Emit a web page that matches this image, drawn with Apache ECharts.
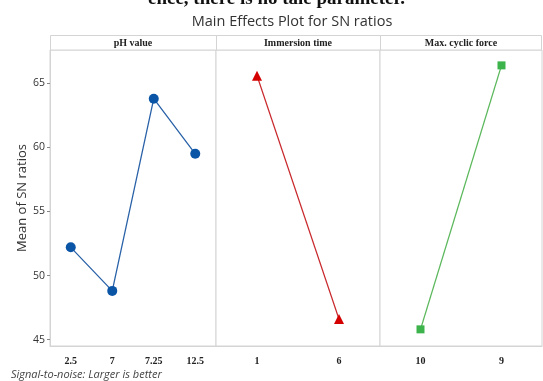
<!DOCTYPE html>
<html>
<head>
<meta charset="utf-8">
<style>
  html, body { margin: 0; padding: 0; background: #fff; }
  #main { width: 543px; height: 381px; }
</style>
<script src="https://cdn.jsdelivr.net/npm/echarts@6/dist/echarts.min.js"></script>
</head>
<body>
<div id="main"></div>
<script>
// factor levels and mean SN ratios
var phLevels = ["2.5", "7", "7.25", "12.5"];
var phValues = [52.2, 48.8, 63.8, 59.5];
var timeLevels = ["1", "6"];
var timeValues = [65.6, 46.6];
var forceLevels = ["10", "9"];
var forceValues = [45.8, 66.4];
var panelNames = ["pH value", "Immersion time", "Max. cyclic force"];

var myChart = echarts.init(document.getElementById("main"));

var gridTop = 50, gridH = 296;
var panels = [
  { left: 50, width: 166 },
  { left: 216, width: 164 },
  { left: 380, width: 162 }
];

var xLab = {
  fontFamily: "Liberation Serif",
  fontWeight: "bold",
  fontSize: 10,
  color: "#222",
  margin: 10
};

function xAxisFor(i, cats) {
  return {
    type: "category",
    gridIndex: i,
    data: cats,
    boundaryGap: true,
    axisLine: { lineStyle: { color: "#d4d4d4" } },
    axisTick: { alignWithLabel: true, length: 3, lineStyle: { color: "#bbb" } },
    axisLabel: xLab
  };
}

function yAxisFor(i) {
  var ax = {
    type: "value",
    gridIndex: i,
    min: 44.5,
    max: 67.6,
    splitLine: { show: false },
    axisLine: { show: i === 0, lineStyle: { color: "#d4d4d4" } },
    axisTick: { show: i === 0, length: 3, lineStyle: { color: "#888" } },
    axisLabel: {
      show: i === 0,
      showMinLabel: false,
      showMaxLabel: false,
      fontFamily: "Open Sans",
      fontSize: 10.5,
      color: "#333",
      margin: 5
    }
  };
  if (i === 0) {
    ax.name = "Mean of SN ratios";
    ax.nameLocation = "middle";
    ax.nameGap = 21;
    ax.nameTextStyle = { fontFamily: "Open Sans", fontSize: 13, color: "#333" };
  }
  return ax;
}

var headerGraphics = [
  {
    type: "rect",
    shape: { x: 50.5, y: 35.5, width: 491, height: 14.5 },
    style: { fill: "#fff", stroke: "#d4d4d4", lineWidth: 1 }
  },
  {
    type: "line",
    shape: { x1: 216.5, y1: 35.5, x2: 216.5, y2: 50 },
    style: { stroke: "#d4d4d4", lineWidth: 1 }
  },
  {
    type: "line",
    shape: { x1: 380.5, y1: 35.5, x2: 380.5, y2: 50 },
    style: { stroke: "#d4d4d4", lineWidth: 1 }
  }
];
panels.forEach(function (p, i) {
  headerGraphics.push({
    type: "text",
    x: p.left + p.width / 2,
    y: 43,
    style: {
      text: panelNames[i],
      font: "bold 10px 'Liberation Serif'",
      fill: "#222",
      align: "center",
      verticalAlign: "middle"
    }
  });
});
// clipped line of body text above the figure
headerGraphics.push({
  type: "text",
  x: 148,
  y: 9,
  style: {
    text: "ence, there is no tale parameter.",
    font: "bold 19px 'Liberation Serif'",
    fill: "#111",
    verticalAlign: "bottom"
  }
});
headerGraphics.push({
  type: "text",
  x: 11,
  y: 375,
  style: {
    text: "Signal-to-noise: Larger is better",
    font: "italic 11px 'Open Sans'",
    fill: "#444",
    verticalAlign: "middle"
  }
});

option = {
  backgroundColor: "#fff",
  animation: false,
  title: {
    text: "Main Effects Plot for SN ratios",
    left: 287,
    top: 9,
    textAlign: "center",
    textStyle: {
      fontFamily: "Open Sans",
      fontWeight: "normal",
      fontSize: 14.5,
      color: "#333"
    }
  },
  grid: panels.map(function (p) {
    return {
      left: p.left,
      width: p.width,
      top: gridTop,
      height: gridH,
      show: true,
      borderColor: "#d4d4d4",
      borderWidth: 1,
      backgroundColor: "#fff"
    };
  }),
  xAxis: [
    xAxisFor(0, phLevels),
    xAxisFor(1, timeLevels),
    xAxisFor(2, forceLevels)
  ],
  yAxis: [yAxisFor(0), yAxisFor(1), yAxisFor(2)],
  graphic: headerGraphics,
  series: [
    {
      name: "pH value",
      type: "line",
      xAxisIndex: 0,
      yAxisIndex: 0,
      data: phValues,
      symbol: "circle",
      symbolSize: 10,
      lineStyle: { color: "#2a62a8", width: 1.3 },
      itemStyle: { color: "#0b55a6" }
    },
    {
      name: "Immersion time",
      type: "line",
      xAxisIndex: 1,
      yAxisIndex: 1,
      data: timeValues,
      symbol: "triangle",
      symbolSize: 10,
      lineStyle: { color: "#c8272b", width: 1.3 },
      itemStyle: { color: "#d40000" }
    },
    {
      name: "Max. cyclic force",
      type: "line",
      xAxisIndex: 2,
      yAxisIndex: 2,
      data: forceValues,
      symbol: "rect",
      symbolSize: 8,
      lineStyle: { color: "#5cb85c", width: 1.3 },
      itemStyle: { color: "#3cb44b" }
    }
  ]
};

myChart.setOption(option);
window.addEventListener("resize", function () {
  myChart.resize();
});
</script>
</body>
</html>
